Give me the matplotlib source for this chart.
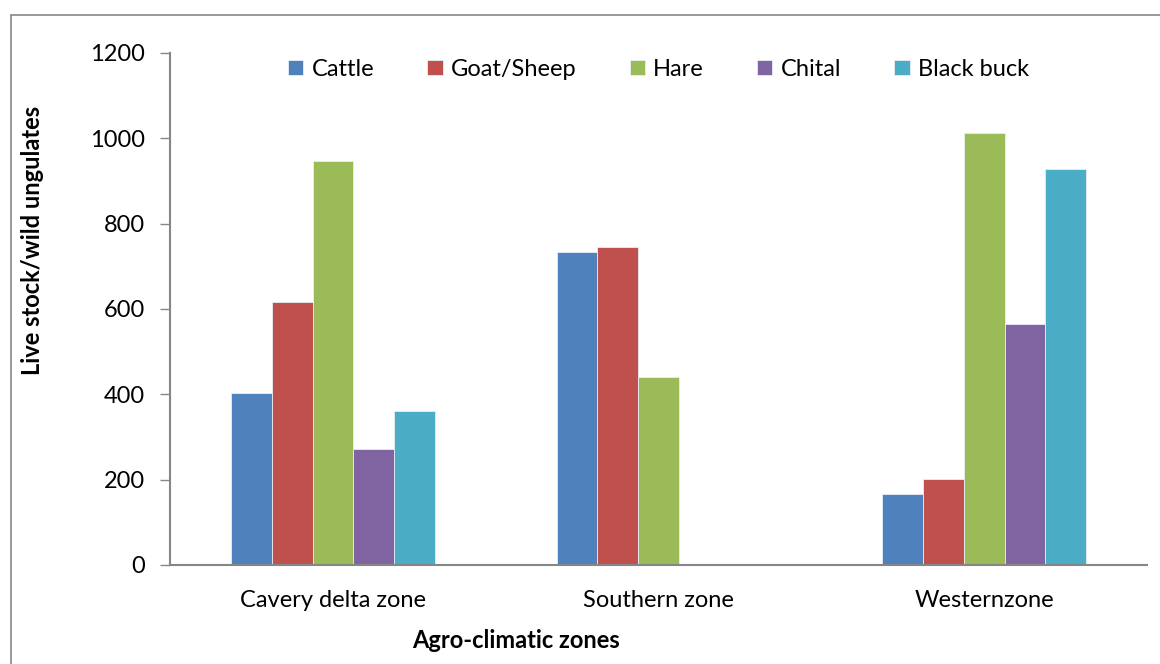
import matplotlib
matplotlib.use("Agg")
import matplotlib.pyplot as plt
import numpy as np
from matplotlib.patches import Rectangle

zones = ["Cavery delta zone", "Southern zone", "Westernzone"]
species = ["Cattle", "Goat/Sheep", "Hare", "Chital", "Black buck"]
cattle = [403, 733, 166]
goat_sheep = [616, 745, 202]
hare = [947, 441, 1012]
chital = [272, 0, 565]
black_buck = [361, 0, 928]
colors = ["#4F81BD", "#C0504D", "#9BBB59", "#8064A2", "#4BACC6"]

plt.rcParams['font.family'] = ['Lato', 'DejaVu Sans']

fig = plt.figure(figsize=(11.6, 6.64), dpi=100)
ax = fig.add_axes([0.1466, 0.1491, 0.8422, 0.7711])

# outer chart border (left and top visible)
fig.patches.append(Rectangle((11 / 1160, -0.1), 1.2, 1 - 15 / 664 + 0.1,
                             transform=fig.transFigure, fill=False,
                             edgecolor="#888888", linewidth=1.2))

x = np.arange(len(zones))
w = 0.125
series = [cattle, goat_sheep, hare, chital, black_buck]
for i, (name, vals) in enumerate(zip(species, series)):
    ax.bar(x + (i - 2) * w, vals, w, color=colors[i], label=name,
           edgecolor="#e8eef5", linewidth=0.6)

ax.set_xlim(-0.5, 2.5)
ax.set_ylim(0, 1200)
ax.set_yticks(range(0, 1201, 200))
ax.set_xticks(x)
ax.set_xticklabels(zones)
ax.tick_params(axis="y", length=7, width=1, color="#868686", pad=11, labelsize=17)
ax.tick_params(axis="x", length=0, pad=18, labelsize=17)

for s in ["top", "right"]:
    ax.spines[s].set_visible(False)
for s in ["left", "bottom"]:
    ax.spines[s].set_color("#868686")
    ax.spines[s].set_linewidth(1.5)

fig.text(33 / 1160, 1 - 240 / 664, "Live stock/wild ungulates", rotation=90,
         ha="center", va="center", fontsize=17, fontweight="bold")
fig.text(516 / 1160, 1 - 640 / 664, "Agro-climatic zones",
         ha="center", va="center", fontsize=17, fontweight="bold")

ax.legend(loc="upper center", bbox_to_anchor=(0.5, 1.03), ncol=5, frameon=False,
          fontsize=17, handlelength=0.65, handleheight=0.65, handletextpad=0.35,
          columnspacing=2.25)

fig.savefig("out.png", dpi=100)
